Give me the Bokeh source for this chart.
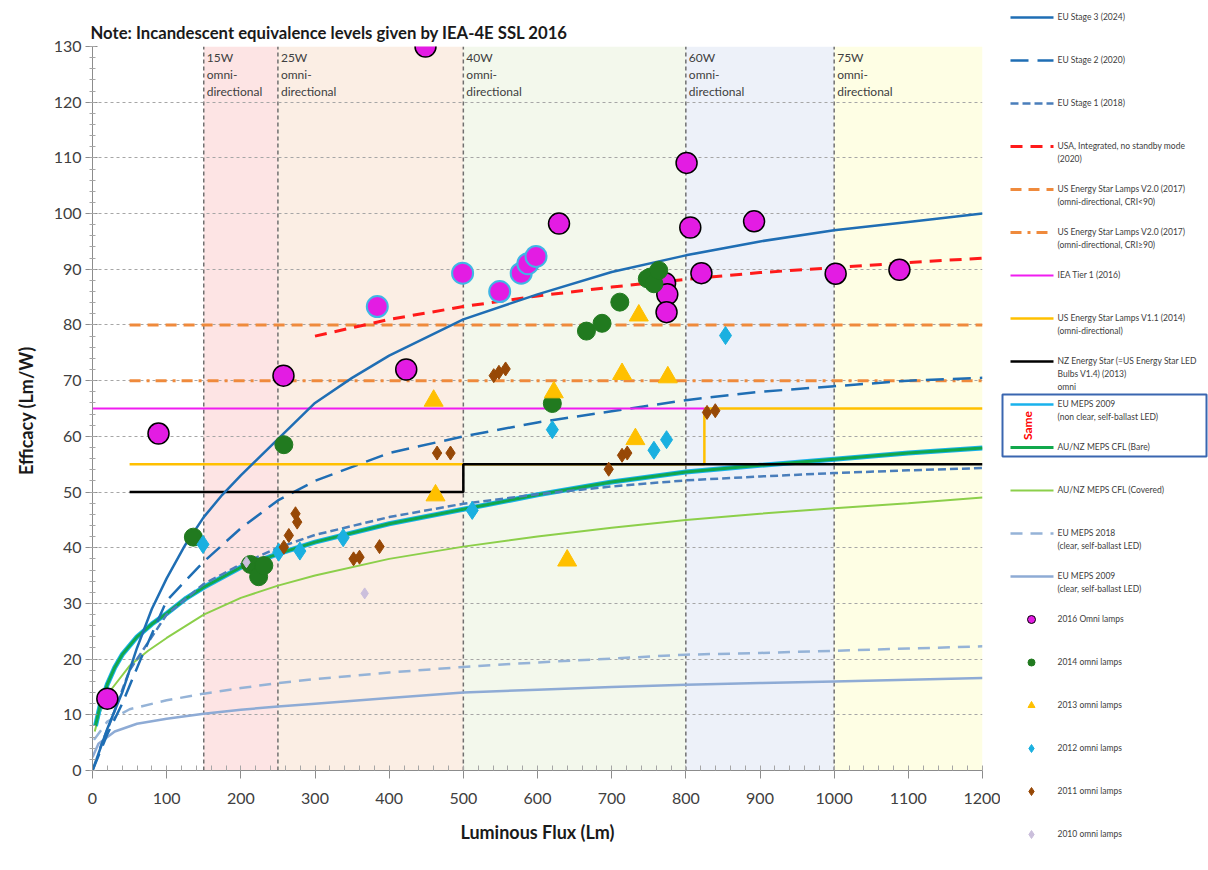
import math
from bokeh.plotting import figure
from bokeh.layouts import row
from bokeh.models import Range1d, FixedTicker
from bokeh.core.properties import value
from bokeh.embed import file_html
from bokeh.resources import INLINE

FONT = "Lato"
TXT = "#404040"

# ---------------- texts ----------------
title_text = "Note: Incandescent equivalence levels given by IEA-4E SSL 2016"
x_label = "Luminous Flux (Lm)"
y_label = "Efficacy  (Lm/W)"
x_ticks = [0, 100, 200, 300, 400, 500, 600, 700, 800, 900, 1000, 1100, 1200]
y_ticks = [0, 10, 20, 30, 40, 50, 60, 70, 80, 90, 100, 110, 120, 130]

# ---------------- equivalence bands ----------------
band_left = [150, 250, 500, 800, 1000]
band_right = [250, 500, 800, 1000, 1200]
band_labels = ["15W\nomni-\ndirectional", "25W\nomni-\ndirectional", "40W\nomni-\ndirectional",
               "60W\nomni-\ndirectional", "75W\nomni-\ndirectional"]
band_colors = ["#fde4e4", "#fbeee4", "#f3f8ec", "#edf1f9", "#fefee4"]

# ---------------- limit curves ----------------
eu_stage3_x = [0, 20, 40, 60, 80, 100, 125, 150, 175, 200, 250, 300, 350, 400, 500, 600, 700, 800, 900, 1000, 1100, 1200]
eu_stage3_y = [0, 7.5, 14, 22, 29, 34.5, 40.5, 45.5, 49.5, 53, 59.5, 66, 70.5, 74.5, 81, 85.5, 89.5, 92.5, 95, 97, 98.5, 100]

eu_stage2_x = [0, 20, 40, 65, 100, 150, 200, 250, 300, 400, 500, 600, 700, 800, 900, 1000, 1100, 1200]
eu_stage2_y = [0, 6.5, 12, 20, 30.5, 37.5, 43.5, 48.5, 52, 57, 60, 62.5, 64.5, 66.5, 68, 69, 70, 70.5]

eu_stage1_x = [10, 25, 50, 100, 150, 200, 250, 300, 400, 500, 600, 700, 800, 900, 1000, 1100, 1200]
eu_stage1_y = [4, 9, 18, 28, 33.5, 37, 40, 42.3, 45.5, 47.9, 49.6, 51, 52.1, 52.8, 53.4, 53.9, 54.3]

usa_x = [300, 400, 500, 600, 700, 800, 900, 1000, 1100, 1200]
usa_y = [78, 81, 83.3, 85.2, 86.8, 88.2, 89.4, 90.3, 91.2, 92]

es_v20_lo_x = [50, 1200]
es_v20_lo_y = [80, 80]
es_v20_hi_x = [50, 1200]
es_v20_hi_y = [70, 70]

iea_tier1_x = [0, 825]
iea_tier1_y = [65, 65]

es_v11_x = [50, 825, 825, 1200]
es_v11_y = [55, 55, 65, 65]

nz_es_x = [50, 500, 500, 1200]
nz_es_y = [50, 50, 55, 55]

meps_bare_x = [4, 10, 20, 30, 40, 60, 80, 100, 125, 150, 200, 250, 300, 400, 500, 600, 700, 800, 900, 1000, 1100, 1200]
meps_bare_y = [8, 11.5, 15.5, 18.5, 20.8, 24, 26.3, 28.2, 30.8, 32.9, 36.5, 38.9, 41, 44.3, 46.9, 49.5, 51.8, 53.6, 54.8, 55.9, 57, 57.9]

cfl_cov_x = [3, 10, 25, 50, 75, 100, 150, 200, 250, 300, 400, 500, 600, 700, 800, 900, 1000, 1100, 1200]
cfl_cov_y = [7, 10.5, 14.5, 18.8, 21.5, 23.8, 28, 31, 33.2, 35, 38, 40.2, 42, 43.6, 45, 46.1, 47.1, 48, 49]

meps18_clear_x = [2, 20, 50, 100, 150, 200, 250, 300, 400, 500, 600, 700, 800, 900, 1000, 1100, 1200]
meps18_clear_y = [5.5, 8.8, 11, 12.6, 13.8, 14.8, 15.7, 16.4, 17.6, 18.6, 19.4, 20.1, 20.8, 21.1, 21.5, 21.9, 22.3]

meps09_clear_x = [0, 8, 30, 60, 100, 150, 200, 250, 300, 400, 500, 600, 700, 800, 900, 1000, 1100, 1200]
meps09_clear_y = [2.4, 4.8, 7, 8.4, 9.3, 10.2, 10.9, 11.5, 12, 13, 14, 14.5, 15, 15.4, 15.7, 16, 16.3, 16.6]

# ---------------- lamp data ----------------
lamps2016_x = [20, 89, 257.5, 423, 449, 629, 801, 806, 892, 821, 772, 775, 774, 1002, 1088]
lamps2016_y = [12.9, 60.5, 70.9, 72, 130, 98.2, 109.1, 97.5, 98.6, 89.3, 87.5, 85.5, 82.3, 89.2, 89.9]
lamps2016b_x = [384, 499, 549, 578, 587, 598]
lamps2016b_y = [83.3, 89.3, 86, 89.3, 91, 92.3]

lamps2014_x = [136, 258, 213, 222, 224, 231, 620, 666, 687, 711, 748, 752, 757, 763.5]
lamps2014_y = [41.9, 58.5, 37, 36.5, 34.8, 36.8, 65.9, 78.9, 80.3, 84.1, 88.3, 88.6, 87.4, 89.8]

lamps2013_x = [460, 462.5, 622, 640, 736.6, 714, 775.7, 732]
lamps2013_y = [66.4, 49.4, 67.9, 37.7, 81.7, 71.2, 70.6, 59.5]

lamps2012_x = [149, 251, 279.6, 338, 512, 620, 853.5, 757, 774]
lamps2012_y = [40.6, 39.2, 39.4, 41.8, 46.7, 61.2, 78.1, 57.5, 59.4]

lamps2011_x = [273.7, 276, 264.7, 258, 352, 360, 387, 464.6, 482.7, 541, 548, 557, 828.6, 839.7, 714, 721, 696]
lamps2011_y = [46.1, 44.6, 42.2, 40.1, 38, 38.3, 40.2, 57, 57, 70.9, 71.5, 72.1, 64.3, 64.6, 56.6, 57, 54.1]

lamps2010_x = [207.6, 367]
lamps2010_y = [37.4, 31.8]

legend_labels = [
    "EU Stage 3 (2024)",
    "EU Stage 2 (2020)",
    "EU Stage 1 (2018)",
    "USA, Integrated, no standby mode\n(2020)",
    "US Energy Star Lamps V2.0 (2017)\n(omni-directional, CRI<90)",
    "US Energy Star Lamps V2.0 (2017)\n(omni-directional, CRI\u226590)",
    "IEA Tier 1 (2016)",
    "US Energy Star Lamps V1.1 (2014)\n(omni-directional)",
    "NZ Energy Star (=US Energy Star LED\nBulbs V1.4) (2013)\nomni",
    "EU MEPS 2009\n(non clear, self-ballast LED)",
    "AU/NZ MEPS CFL (Bare)",
    "AU/NZ MEPS CFL (Covered)",
    "EU MEPS 2018\n(clear, self-ballast LED)",
    "EU MEPS 2009\n(clear, self-ballast LED)",
    "2016 Omni lamps",
    "2014 omni lamps",
    "2013 omni lamps",
    "2012 omni lamps",
    "2011 omni lamps",
    "2010 omni lamps",
]

# ---------------- styles ----------------
C_BLUE = "#1f6eb4"
C_STEEL = "#4a7ebb"
C_RED = "#ff1a1a"
C_ORANGE = "#ef8a3c"
C_MAG_LINE = "#f01cf0"
C_YEL = "#ffc000"
C_CYAN_L = "#19b2ec"
C_GREEN_L = "#12a84c"
C_LGREEN = "#8ccf4a"
C_PALE = "#95b3d7"
C_PALE2 = "#8eabd5"
C_MAG = "#e31ce3"
C_DGREEN = "#217a1f"
C_TRI = "#ffc000"
C_DIA = "#1ab0e0"
C_BROWN = "#974806"
C_LAV = "#cbbfdc"

line_styles = [
    dict(line_color=C_BLUE, line_width=2.5),
    dict(line_color=C_BLUE, line_width=2.5, line_dash="18 9"),
    dict(line_color=C_STEEL, line_width=2.5, line_dash="8 4"),
    dict(line_color=C_RED, line_width=3, line_dash="12 8"),
    dict(line_color=C_ORANGE, line_width=3, line_dash="11 7"),
    dict(line_color=C_ORANGE, line_width=3, line_dash="11 6 3 6"),
    dict(line_color=C_MAG_LINE, line_width=2),
    dict(line_color=C_YEL, line_width=2.5),
    dict(line_color="black", line_width=2.5),
    dict(line_color=C_CYAN_L, line_width=2.5),
    dict(line_color=C_GREEN_L, line_width=3),
    dict(line_color=C_LGREEN, line_width=2),
    dict(line_color=C_PALE, line_width=2.5, line_dash="12 8"),
    dict(line_color=C_PALE2, line_width=2.5),
]

# ---------------- main figure ----------------
p = figure(width=1000, height=870, x_range=Range1d(0, 1200), y_range=Range1d(0, 130),
           output_backend="svg", toolbar_location=None,
           min_border_left=92, min_border_right=18, min_border_top=46, min_border_bottom=100,
           title=title_text)
p.frame_align = False
p.outline_line_color = None
p.background_fill_color = "white"
p.border_fill_color = "white"

p.title.align = "left"
p.title.offset = -2
p.title.standoff = 7
p.title.text_font = FONT
p.title.text_font_size = "16.7px"
p.title.text_font_style = "bold"
p.title.text_color = "#1a1a1a"

p.xaxis.ticker = FixedTicker(ticks=x_ticks, minor_ticks=list(range(0, 1201, 20)))
p.yaxis.ticker = FixedTicker(ticks=y_ticks, minor_ticks=list(range(0, 131, 2)))
for ax in (p.xaxis[0], p.yaxis[0]):
    ax.axis_line_color = "#8c8c8c"
    ax.major_tick_line_color = "#8c8c8c"
    ax.minor_tick_line_color = "#a6a6a6"
    ax.major_label_text_font = FONT
    ax.major_label_text_font_size = "16px"
    ax.major_label_text_color = TXT
    ax.axis_label_text_font = FONT
    ax.axis_label_text_font_size = "18px"
    ax.axis_label_text_font_style = "bold"
    ax.axis_label_text_color = "#1a1a1a"
p.xaxis.axis_label = x_label
p.yaxis.axis_label = y_label
p.xaxis.major_tick_out = 8
p.xaxis.major_tick_in = 0
p.xaxis.minor_tick_in = 5
p.xaxis.minor_tick_out = 0
p.xaxis.major_label_standoff = 14
p.xaxis.axis_label_standoff = 14
p.yaxis.major_tick_out = 7
p.yaxis.major_tick_in = 5
p.yaxis.minor_tick_in = 3
p.yaxis.minor_tick_out = 3
p.yaxis.major_label_standoff = 4
p.yaxis.axis_label_standoff = 14

p.xgrid.grid_line_color = None
p.ygrid.ticker = FixedTicker(ticks=y_ticks[1:])
p.ygrid.grid_line_color = "#a6a6a6"
p.ygrid.grid_line_dash = "3 3"
p.ygrid.grid_line_width = 1

# bands (below grid)
p.quad(left=band_left, right=band_right, bottom=0, top=130, fill_color=band_colors,
       line_color=None, level="image")
p.segment(x0=band_left, y0=0, x1=band_left, y1=130, line_color="#707070",
          line_dash="4 3", line_width=1.5, level="underlay")
p.text(x=band_left, y=[129.4] * len(band_left), text=band_labels, x_offset=3,
       text_font=value(FONT), text_font_size="12px", text_color=TXT,
       text_baseline="top", text_align="left", text_line_height=1.15)

# curves
curve_data = [
    (meps09_clear_x, meps09_clear_y, 13),
    (meps18_clear_x, meps18_clear_y, 12),
    (cfl_cov_x, cfl_cov_y, 11),
    (meps_bare_x, meps_bare_y, None),
    (meps_bare_x, meps_bare_y, 10),
    (es_v20_lo_x, es_v20_lo_y, 4),
    (es_v20_hi_x, es_v20_hi_y, 5),
    (eu_stage1_x, eu_stage1_y, 2),
    (eu_stage2_x, eu_stage2_y, 1),
    (es_v11_x, es_v11_y, 7),
    (nz_es_x, nz_es_y, 8),
    (iea_tier1_x, iea_tier1_y, 6),
    (usa_x, usa_y, 3),
    (eu_stage3_x, eu_stage3_y, 0),
]
for xs, ys, idx in curve_data:
    if idx is None:
        p.line(xs, ys, line_color=C_CYAN_L, line_width=5)
    else:
        p.line(xs, ys, **line_styles[idx])

# lamps
p.scatter(lamps2016_x, lamps2016_y, marker="circle", size=21, fill_color=C_MAG,
          line_color="black", line_width=1.5)
p.scatter(lamps2016b_x, lamps2016b_y, marker="circle", size=21, fill_color=C_MAG,
          line_color="#3fb6e6", line_width=2)
p.scatter(lamps2014_x, lamps2014_y, marker="circle", size=18, fill_color=C_DGREEN,
          line_color=C_DGREEN)
p.scatter(lamps2013_x, lamps2013_y, marker="triangle", size=19, fill_color=C_TRI,
          line_color=C_TRI)
p.scatter(lamps2012_x, lamps2012_y, marker="diamond", size=18, fill_color=C_DIA,
          line_color=C_DIA)
p.scatter(lamps2011_x, lamps2011_y, marker="diamond", size=14, fill_color=C_BROWN,
          line_color=C_BROWN)
p.scatter(lamps2010_x, lamps2010_y, marker="diamond", size=11, fill_color=C_LAV,
          line_color=C_LAV)

# ---------------- legend figure ----------------
leg = figure(width=208, height=870, x_range=Range1d(0, 208), y_range=Range1d(870, 0),
             output_backend="svg", toolbar_location=None, min_border=0,
             x_axis_type=None, y_axis_type=None)
leg.frame_align = False
leg.grid.visible = False
leg.outline_line_color = None

marker_styles = [
    dict(marker="circle", size=8, fill_color=C_MAG, line_color="black", line_width=1),
    dict(marker="circle", size=7, fill_color=C_DGREEN, line_color=C_DGREEN),
    dict(marker="triangle", size=7, fill_color=C_TRI, line_color=C_TRI),
    dict(marker="diamond", size=8, fill_color=C_DIA, line_color=C_DIA),
    dict(marker="diamond", size=8, fill_color=C_BROWN, line_color=C_BROWN),
    dict(marker="diamond", size=8, fill_color=C_LAV, line_color=C_LAV),
]

for i, lab in enumerate(legend_labels):
    yy = 17 + 43 * i
    if i < len(line_styles):
        st = dict(line_styles[i])
        st["line_width"] = min(st["line_width"], 3)
        leg.line([10, 53], [yy, yy], **st)
    else:
        leg.scatter([31], [yy], **marker_styles[i - len(line_styles)])
    leg.text(x=[57], y=[yy - 6], text=[lab], text_font=value(FONT), text_font_size="8.5px",
             text_color=TXT, text_baseline="top", text_align="left", text_line_height=1.3)

leg.quad(left=[2], right=[206], top=[394], bottom=[456], fill_color=None,
         line_color="#3a66b0", line_width=2)
leg.text(x=[27], y=[425], text=["Same"], angle=math.pi / 2, text_font=value(FONT),
         text_font_size="12px", text_font_style="bold", text_color="#ff0000",
         text_align="center", text_baseline="middle")

layout = row(p, leg)
open("out.html", "w").write(file_html(layout, INLINE))
